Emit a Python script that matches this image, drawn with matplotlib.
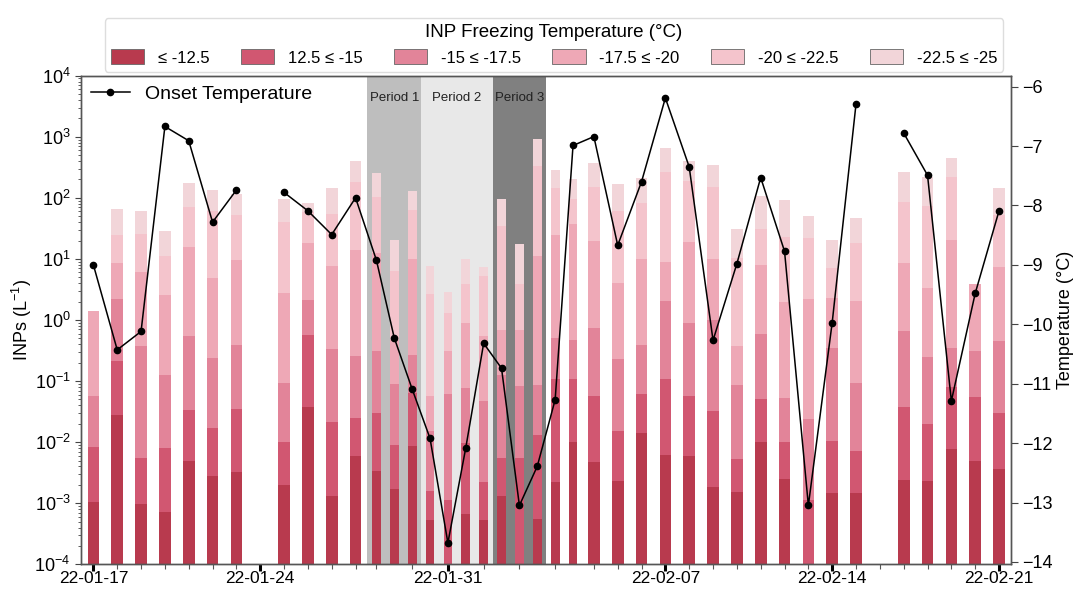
import numpy as np
import pandas as pd
import matplotlib
matplotlib.use("Agg")
import matplotlib.pyplot as plt
from matplotlib.patches import Patch
from matplotlib.ticker import LogLocator, FixedLocator, NullFormatter, MultipleLocator

plt.rcParams['font.family'] = ['Liberation Sans', 'DejaVu Sans']
plt.rcParams['mathtext.fontset'] = 'custom'
plt.rcParams['mathtext.rm'] = 'Liberation Sans'

# ---------------- data ----------------
sample_times = (list(pd.date_range('2022-01-17', '2022-01-28', freq='D'))
                + list(pd.date_range('2022-01-29 00:00', '2022-02-03 12:00', freq='12h'))
                + list(pd.date_range('2022-02-04', '2022-02-21', freq='D')))

nan = np.nan
# cumulative INP concentrations (L^-1) active at or above each temperature
inp_m12_5 = [1.05e-3, 0.028, 9.8e-4, 7.2e-4, 5.0e-3, 2.8e-3, 3.2e-3, nan, 2.0e-3, 0.037, 1.3e-3, 6.0e-3,
             3.4e-3, 1.7e-3, 8.8e-3, 5.3e-4, nan, 6.6e-4, 5.3e-4, 1.3e-3, nan, 5.5e-4, 2.25e-3, 0.0102,
             4.7e-3, 2.35e-3, 0.0143, 6.2e-3, 5.9e-3, 1.86e-3, 1.55e-3, 0.0102, 2.5e-3, nan, 1.46e-3, 1.48e-3,
             nan, 2.4e-3, 2.3e-3, 7.8e-3, 4.9e-3, 3.7e-3]
inp_m15 = [8.3e-3, 0.213, 5.6e-3, 8.1e-3, 0.0337, 0.017, 0.0353, nan, 0.0102, 0.57, 0.021, 0.025,
           0.0297, 8.9e-3, 0.063, 1.6e-3, 1.15e-3, 9.6e-3, 2.2e-3, 5.6e-3, 5.6e-3, 0.0129, 0.11, 0.11,
           0.058, 0.0155, 0.062, 0.11, 0.056, 0.032, 5.3e-3, 0.051, 0.0102, 1.13e-3, 0.0105, 7.2e-3,
           nan, 0.037, 0.0196, 0.081, 0.054, 0.030]
inp_m17_5 = [0.057, 2.18, 0.38, 0.126, 0.54, 0.237, 0.39, nan, 0.092, 2.1, 0.34, 0.26,
             0.315, 0.089, 0.27, 0.0153, 0.062, 0.076, 0.047, 0.126, 0.083, 0.086, 0.5, 0.47,
             0.75, 0.23, 0.39, 2.05, 0.9, 1.0, 0.086, 0.6, 0.052, 0.024, 0.35, 0.092,
             nan, 0.67, 0.245, 0.35, 0.31, 0.46]
inp_m20 = [1.42, 8.7, 6.1, 2.57, 15.5, 4.9, 9.5, nan, 2.8, 18.4, 7.7, 14,
           12.6, 0.47, 10, 0.056, 0.31, 0.88, 0.54, 0.69, 0.69, 11.2, 24.7, 37,
           19.5, 4.0, 10, 9.0, 18.9, 9.9, 0.37, 7.9, 2.0, 2.18, 2.26, 2.05,
           nan, 8.5, 3.4, 20.4, 3.85, 7.5]
inp_m22_5 = [1.42, 24.7, 25.6, 11.3, 72, 62, 52, nan, 40, 59, 54, 184,
             104, 6.3, 64, 2.67, 1.32, 3.85, 5.25, 34, 3.9, 336, 147, 95,
             151, 61, 83, 269, 190, 151, 10.5, 30.6, 22.6, 22.4, 7.0, 18.4,
             nan, 86, 74, 217, 3.85, 52]
inp_m25 = [1.42, 66, 61, 29, 173, 135, 117, nan, 95, 83, 147, 401,
           252, 20.4, 129, 7.8, 2.9, 9.9, 7.5, 95, 17.4, 905, 286, 204,
           377, 166, 209, 646, 400, 345, 30.6, 107, 92, 51, 20.4, 46,
           nan, 262, 217, 445, 3.85, 147]
onset_temp = [-9.0, -10.43, -10.12, -6.67, -6.91, -8.28, -7.74, nan, -7.78, -8.09, -8.49, -7.87,
              -8.92, -10.23, -11.09, -11.92, -13.68, -12.08, -10.32, -10.74, -13.05, -12.39, -11.27, -6.99,
              -6.84, -8.67, -7.60, -6.19, -7.35, -10.27, -8.98, -7.53, -8.77, -13.05, -9.97, -6.29,
              nan, -6.78, -7.49, -11.29, -9.48, -8.09]

level_labels = ['≤ -12.5', '12.5 ≤ -15', '-15 ≤ -17.5', '-17.5 ≤ -20', '-20 ≤ -22.5', '-22.5 ≤ -25']
period_names = ['Period 1', 'Period 2', 'Period 3']
period_first = ['2022-01-29 00:00', '2022-01-30 12:00', '2022-02-01 12:00']
period_last = ['2022-01-30 00:00', '2022-02-01 00:00', '2022-02-02 12:00']
major_dates = ['2022-01-17', '2022-01-24', '2022-01-31', '2022-02-07', '2022-02-14', '2022-02-21']

# ---------------- style ----------------
level_colors = ['#b83a4e', '#d15771', '#e28499', '#eea8b6', '#f4c4cc', '#f2d5d9']
period_colors = ['#bebebe', '#e8e8e8', '#808080']
floor = 1e-4

# slot layout: each sample gets a slot; 12-hourly samples get a narrower slot
t = pd.DatetimeIndex(sample_times)
dt_days = np.append(np.diff(t.values).astype('timedelta64[m]').astype(float) / 1440.0, 1.0)
slot = 0.5 + 0.5 * dt_days
xpos = np.concatenate([[0.0], np.cumsum((slot[:-1] + slot[1:]) / 2.0)])
bar_w = 0.49 * slot

fig = plt.figure(figsize=(10.73, 5.95), dpi=100)
ax = fig.add_axes([81 / 1073, 1 - 564.3 / 595, (1010.7 - 81) / 1073, (564.3 - 75.7) / 595])

# periods
for name, f, l, c in zip(period_names, period_first, period_last, period_colors):
    i0 = int(np.where(t == pd.Timestamp(f))[0][0])
    i1 = int(np.where(t == pd.Timestamp(l))[0][0])
    x0 = xpos[i0] - slot[i0] / 2
    x1 = xpos[i1] + slot[i1] / 2
    ax.axvspan(x0, x1, color=c, zorder=0, lw=0)
    ax.text((x0 + x1) / 2, 0.955, name, transform=ax.get_xaxis_transform(),
            ha='center', va='center', fontsize=9.5, color='#222222')

levels = [inp_m12_5, inp_m15, inp_m17_5, inp_m20, inp_m22_5, inp_m25]
prev = np.full(len(xpos), floor)
handles = []
for vals, col, lab in zip(levels, level_colors, level_labels):
    top = np.array(vals, dtype=float)
    ok = ~np.isnan(top)
    ax.bar(xpos[ok], top[ok] - prev[ok], bottom=prev[ok], width=bar_w[ok],
           color=col, lw=0, zorder=2)
    prev = np.where(ok, top, prev)
    handles.append(Patch(facecolor=col, edgecolor='#666666', linewidth=0.6, label=lab))

ax.set_yscale('log')
ax.set_ylim(1e-4, 1e4)
ax.set_xlim(xpos[0] - 0.52, xpos[-1] + 0.49)
ax.yaxis.set_major_locator(LogLocator(base=10, numticks=20))
ax.yaxis.set_minor_locator(LogLocator(base=10, subs=np.arange(2, 10), numticks=100))
ax.yaxis.set_minor_formatter(NullFormatter())
ax.set_ylabel('INPs (L$^{-1}$)', fontsize=13, labelpad=0)

maj = [xpos[np.where(t == pd.Timestamp(d))[0][0]] for d in major_dates]
minor_idx = np.where(t.hour == 0)[0]
ax.xaxis.set_major_locator(FixedLocator(maj))
ax.xaxis.set_minor_locator(FixedLocator(xpos[minor_idx]))
ax.set_xticklabels([pd.Timestamp(d).strftime('%y-%m-%d') for d in major_dates])

ax.tick_params(axis='x', which='major', length=5, width=2.2, color='black', labelsize=12.5, pad=0)
ax.tick_params(axis='x', which='minor', length=3.5, width=0.8, color='#555555')
ax.tick_params(axis='y', which='major', length=4, width=0.8, color='#444444', labelsize=13)
ax.tick_params(axis='y', which='minor', length=2, width=0.6, color='#444444')
for s in ax.spines.values():
    s.set_color('#555555')
    s.set_linewidth(1.0)

ax2 = ax.twinx()
ax2.plot(xpos, onset_temp, color='black', lw=1.1, marker='o', markersize=4.5,
         label='Onset Temperature', zorder=5)
ax2.set_ylim(-14.04, -5.815)
ax2.yaxis.set_major_locator(MultipleLocator(1))
ax2.tick_params(axis='y', length=5, width=0.8, color='#444444', labelsize=13, pad=3)
ax2.set_ylabel('Temperature (°C)', fontsize=13, labelpad=3)
for s in ax2.spines.values():
    s.set_color('#555555')
    s.set_linewidth(1.0)
ax2.legend(loc='upper left', frameon=False, fontsize=14, handlelength=2.0,
           borderaxespad=0.1, handletextpad=0.8)

fig.legend(handles=handles, loc='upper center', bbox_to_anchor=(554 / 1073, 1 - 10 / 595),
           ncol=6, title='INP Freezing Temperature (°C)', fontsize=12, title_fontsize=13.5,
           frameon=True, edgecolor='#dddddd', framealpha=1, handleheight=1.0,
           columnspacing=1.9, handletextpad=0.8, borderpad=0.35)

fig.savefig('out.png', dpi=100)
